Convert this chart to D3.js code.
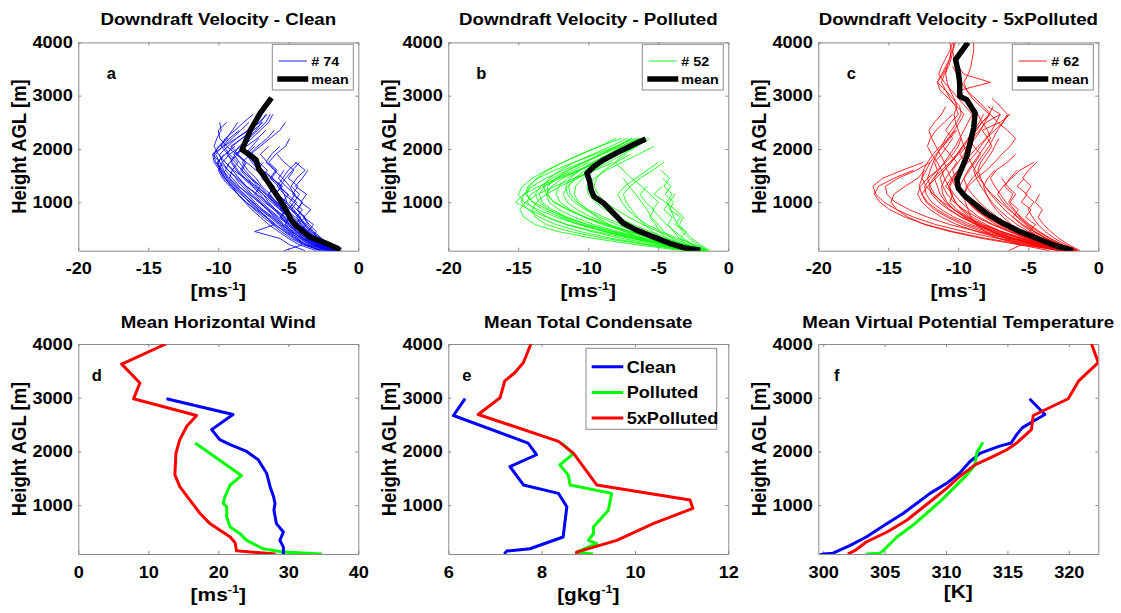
<!DOCTYPE html>
<html>
<head>
<meta charset="utf-8">
<script src="https://cdn.jsdelivr.net/npm/d3@7"></script>
<style>
  body { margin: 0; background: #fff; }
  svg text { font-family: "Liberation Sans", Arial, Helvetica, sans-serif; font-weight: bold; fill: #000; }
</style>
</head>
<body>
<svg id="fig" width="1121" height="613"></svg>
<script>
// ---------------- data ----------------
// model height levels (m AGL) shared by the individual downdraft profiles
const heightLevels = [90, 200, 320, 450, 580, 720, 860, 1000, 1150, 1300, 1450, 1600, 1750, 1900,
  2050, 2200, 2350, 2500, 2650, 2800, 2950, 3100, 3250, 3400, 3550, 3700, 3850, 4000];

// individual downdraft velocity profiles (m/s), one value per level from the ground up
const cleanProfiles = [
  [-1.5,-2.4,-3.1,-3.8,-4.3,-4.9,-5.4,-6.0,-6.6,-7.3,-8.1,-8.9,-9.5,-10.0,-10.3,-10.1,-9.8,-9.9],
  [-1.8,-2.9,-3.6,-4.2,-4.6,-5.2,-5.9,-6.5,-7.2,-8.0,-8.6,-9.3,-9.9,-10.4,-9.6,-8.7,-7.9,-7.0,-6.6],
  [-1.3,-2.1,-2.8,-3.4,-3.9,-4.2,-4.6,-5.1,-5.3,-5.6,-6.1,-6.8,-7.5,-7.8,-7.2,-6.5,-6.0],
  [-2.2,-3.0,-3.9,-4.6,-5.3,-5.8,-6.4,-7.1,-7.8,-8.6,-9.2,-9.7,-10.1,-9.5,-8.8],
  [-1.6,-2.6,-3.2,-3.6,-4.1,-4.4,-4.0,-4.6,-4.2,-4.8,-4.4,-3.8,-4.5],
  [-2.0,-3.4,-4.2,-5.0,-5.6,-6.1,-6.8,-7.4,-7.9,-8.5,-9.0,-9.5,-9.2,-8.6,-9.1,-8.3,-7.5,-6.8],
  [-1.4,-2.2,-2.9,-3.3,-3.8,-4.5,-5.2,-5.6,-6.0,-5.4,-6.2,-6.9,-7.4,-8.1,-7.6,-7.1],
  [-2.5,-3.8,-4.6,-5.3,-5.9,-6.5,-7.2,-7.8,-8.3,-8.9,-9.4,-9.6,-9.9,-10.2,-9.7,-9.2,-8.5],
  [-1.9,-2.8,-3.3,-3.0,-3.5,-3.9,-3.4,-4.1,-3.7,-4.5,-4.0,-3.6],
  [-1.7,-2.7,-3.5,-4.4,-5.1,-5.5,-5.1,-5.8,-6.4,-6.0,-6.7,-7.3,-8.0,-8.6,-8.2,-7.6,-7.0,-6.4,-6.1],
  [-2.3,-3.3,-4.0,-4.8,-5.5,-6.2,-6.9,-7.6,-8.1,-8.8,-9.3,-9.8,-10.2,-10.3,-10.0,-9.4,-9.0,-8.6],
  [-1.5,-2.5,-3.0,-3.7,-4.0,-4.7,-5.0,-4.6,-5.3,-5.8,-5.4,-6.0,-6.6,-6.2,-5.6],
  [-3.8,-4.9,-5.6,-7.4,-6.0,-6.6,-7.1,-7.7,-8.4,-9.0,-9.6,-9.9,-10.0,-9.6],
  [-1.2,-2.0,-2.6,-3.2,-3.6,-3.9,-4.3,-4.0,-4.6,-4.9,-5.4,-5.0,-4.4],
  [-2.1,-3.1,-3.8,-4.3,-4.9,-5.5,-6.0,-6.6,-7.0,-7.6,-8.2,-8.7,-9.1,-8.8,-8.0,-7.2,-6.6],
  [-1.6,-2.3,-3.0,-3.5,-4.2,-4.8,-5.3,-5.9,-6.3,-6.9,-7.3,-7.9,-8.3,-7.7,-7.0,-6.3,-5.6,-5.2],
  [-2.8,-3.6,-4.4,-5.1,-5.7,-6.3,-7.0,-7.5,-8.2,-8.7,-9.2,-9.0,-9.5],
  [-1.9,-2.9,-3.7,-4.0,-4.5,-4.1,-4.8,-5.4,-5.0,-5.7,-6.3,-5.9,-6.5,-7.0,-6.4],
  [-5.3,-4.0,-4.3,-4.9,-5.4,-6.0,-6.5,-7.1,-7.7,-8.3,-8.8],
  [-1.4,-2.4,-3.2,-3.9,-4.6,-5.0,-5.6,-6.2,-6.8,-7.5,-8.1,-8.6,-9.0,-9.3,-9.8,-9.5,-8.8,-8.2,-7.5],
  [-2.4,-3.5,-4.1,-4.7,-5.2,-5.0,-5.6,-5.3,-5.9,-5.5,-6.2,-5.8,-6.4,-5.9,-5.2,-4.9],
  [-1.7,-2.6,-3.4,-3.9,-4.3,-3.8,-4.4,-4.9,-4.5,-5.2,-5.7,-5.3],
  [-2.0,-3.2,-4.0,-4.8,-5.4,-5.9,-6.5,-7.0,-7.6,-8.1,-8.7,-9.3,-9.7,-9.2,-9.6,-9.0,-8.4,-7.8],
  [-1.3,-2.1,-2.7,-3.3,-3.8,-4.2,-4.7,-5.2,-5.7,-6.2,-6.6,-7.1,-7.6,-8.0,-7.4],
  [-2.6,-3.7,-4.5,-5.2,-6.0,-6.6,-7.3,-8.0,-8.6,-9.1,-9.5,-9.8,-10.1],
  [-1.8,-2.7,-3.1,-3.6,-3.2,-3.9,-4.4,-4.0,-4.7,-4.3,-5.0,-4.6,-5.3,-5.8],
  [-2.2,-3.0,-3.7,-4.5,-5.0,-5.7,-6.3,-6.9,-7.4,-7.0,-7.7,-8.3,-8.0,-8.7,-9.4,-9.9,-10.0,-9.4],
  [-1.5,-2.5,-3.3,-4.0,-4.4,-4.9,-5.5,-5.1,-5.8,-6.3,-6.9,-6.5,-7.1,-7.6],
  [-3.0,-4.2,-5.0,-5.7,-6.4,-7.0,-7.6,-8.1,-8.6,-9.0,-9.5,-9.9,-10.3,-10.4,-9.9,-9.3],
  [-1.6,-2.6,-3.4,-4.1,-4.8,-5.4,-6.0,-6.7,-7.3,-8.0,-8.5,-9.0,-8.6,-9.2,-8.4,-7.8,-7.2,-6.6,-6.3],
  [-2.0,-2.9,-3.5,-4.1,-3.7,-4.3,-4.8,-4.4,-5.1,-5.6,-5.2,-4.7,-4.2],
  [-1.4,-2.2,-3.0,-3.6,-4.3,-4.9,-5.5,-6.1,-6.6,-7.2,-7.7,-8.3,-8.8,-9.4,-9.0,-8.3,-7.6],
  [-2.7,-3.9,-4.8,-5.5,-6.1,-6.8,-7.4,-8.0,-8.6,-9.2,-9.7,-10.0,-9.7,-9.9,-9.3,-8.7,-7.8,-7.1,-6.5],
  [-1.9,-2.8,-3.6,-4.2,-4.7,-5.3,-5.9,-6.4,-6.8,-7.4,-7.9,-8.4,-8.1,-8.7,-8.2],
  [-2.3,-3.2,-3.9,-4.4,-4.9,-5.6,-5.2,-5.9,-6.4,-6.0,-6.6,-7.2,-6.8],
  [-1.7,-2.5,-3.2,-3.7,-4.3,-4.8,-5.4,-6.0,-6.5,-7.0,-7.6,-8.1,-8.5,-8.9,-8.5,-7.9,-7.3,-6.9]
];
const pollutedProfiles = [
  [-2.0,-4.5,-7.0,-9.5,-11.5,-13.0,-14.2,-15.2,-14.6,-13.5,-12.2,-10.8,-9.4,-8.0,-6.8,-5.8],
  [-1.8,-3.8,-6.0,-8.2,-10.0,-11.6,-12.9,-13.9,-14.5,-14.3,-13.6,-12.4,-11.0,-9.5,-8.0,-6.6],
  [-2.5,-5.0,-7.6,-9.8,-11.6,-12.9,-13.8,-14.4,-14.1,-13.2,-12.0,-10.6,-9.2,-7.8,-6.5],
  [-1.6,-3.2,-5.1,-7.0,-8.7,-10.2,-11.4,-12.4,-13.0,-13.2,-12.8,-12.0,-11.0,-9.7,-8.4,-7.2],
  [-2.2,-4.2,-6.5,-8.6,-10.4,-11.8,-12.8,-13.5,-13.8,-13.4,-12.6,-11.5,-10.2,-9.0,-7.7,-6.3],
  [-1.9,-3.6,-5.5,-7.4,-9.0,-10.3,-11.3,-12.0,-12.3,-12.1,-11.5,-10.6,-9.6,-8.5,-7.5],
  [-2.7,-5.5,-8.3,-10.6,-12.3,-13.5,-14.3,-14.8,-14.6,-14.0,-13.0,-11.8,-10.4,-9.0,-7.9,-6.9],
  [-1.7,-3.4,-5.2,-7.0,-8.5,-9.8,-10.8,-11.5,-11.8,-11.5,-10.8,-9.9,-8.9,-7.9],
  [-2.1,-4.1,-6.3,-8.3,-10.1,-11.5,-12.6,-13.3,-13.5,-13.1,-12.3,-11.1,-9.9],
  [-2.4,-4.6,-6.8,-8.9,-10.6,-12.0,-13.2,-14.0,-14.4,-14.2,-13.7,-12.9,-11.8,-10.6,-9.2,-7.6],
  [-1.5,-3.0,-4.6,-6.2,-7.6,-8.9,-10.0,-10.8,-11.3,-11.4,-11.0,-10.2,-9.2,-8.1,-7.0,-5.9],
  [-2.0,-3.9,-5.9,-7.9,-9.6,-11.0,-12.1,-12.8,-13.0,-12.6,-11.8,-10.7,-9.4,-8.1,-6.9],
  [-2.9,-5.8,-8.8,-11.3,-13.0,-13.8,-14.0,-13.7,-13.0,-12.0,-10.8,-9.5,-8.2],
  [-1.6,-3.3,-5.0,-6.6,-8.0,-9.2,-10.2,-11.0,-11.5,-11.6,-11.3,-10.6,-9.7,-8.6,-7.6,-6.4],
  [-2.3,-4.4,-6.7,-8.8,-10.7,-12.3,-13.6,-14.6,-15.0,-14.7,-14.0,-13.0,-11.8,-10.5,-9.2,-8.0],
  [-1.8,-3.5,-5.3,-7.1,-8.8,-10.3,-11.5,-12.5,-12.9,-12.9,-12.3,-11.4,-10.3,-9.2,-8.0,-6.9],
  [-1.4,-2.2,-2.8,-3.3,-3.6,-3.9,-4.1,-4.4,-4.0,-4.6,-4.2,-4.8],
  [-1.8,-2.6,-3.4,-3.0,-3.8,-3.4,-4.2,-3.9,-4.5,-4.1,-4.7],
  [-2.2,-3.3,-4.0,-4.6,-5.0,-5.5,-5.8,-6.2,-6.6,-7.1,-7.5],
  [-1.5,-2.4,-3.6,-4.8,-5.8,-6.6,-7.2,-7.6,-7.9,-7.4,-6.6,-5.8,-5.0],
  [-2.0,-3.0,-3.5,-3.9,-4.3,-4.0,-4.6,-4.2,-3.8],
  [-1.3,-2.0,-2.6,-3.1,-3.5,-3.2,-3.8,-4.5,-5.3,-4.7],
  [-2.6,-3.8,-4.7,-5.4,-6.0,-6.5,-6.9,-7.3,-7.5,-7.0,-6.3,-5.4,-4.6],
  [-1.7,-2.8,-3.9,-5.0,-6.1,-7.1,-8.0,-8.8,-9.3,-9.6,-9.4,-8.9,-8.0,-7.0],
  [-1.9,-3.1,-4.3,-5.6,-6.8,-7.9,-8.8,-9.5,-10.0,-10.1,-9.6,-8.7,-7.6,-6.4,-5.3],
  [-2.4,-3.7,-4.4,-4.9,-5.2,-5.6,-5.3,-5.9,-6.3,-5.8],
  [-1.6,-2.5,-3.2,-3.8,-4.4,-4.9,-5.4,-5.0,-5.6,-6.2,-6.9,-7.5,-8.1,-7.3],
  [-3.0,-4.8,-6.2,-7.4,-8.5,-9.4,-10.1,-10.7,-11.0,-10.9,-10.4,-9.6,-8.6,-7.5,-6.5,-5.6],
  [-3.2,-6.5,-9.6,-12.2,-13.8,-14.6,-14.9,-14.5,-13.6,-12.4,-11.0,-9.6]
];
const polluted5xProfiles = [
  [-2.0,-4.5,-7.2,-9.6,-11.6,-13.2,-14.4,-15.3,-15.9,-16.1,-15.4,-14.0,-12.5],
  [-2.4,-5.2,-8.0,-10.4,-12.3,-13.8,-14.9,-15.6,-16.0,-15.7,-14.6,-13.2],
  [-1.8,-4.0,-6.4,-8.6,-10.6,-12.2,-13.5,-14.5,-15.1,-15.2,-14.3,-13.0,-12.0],
  [-2.6,-5.6,-8.3,-10.6,-12.4,-13.6,-14.4,-14.8,-14.6,-13.8,-12.9,-12.4],
  [-1.9,-3.8,-5.6,-7.2,-8.6,-9.8,-10.7,-11.4,-11.9,-12.1,-11.8,-11.2,-10.6,-10.1,-9.7,-9.3,-8.9,-8.5,-8.2],
  [-2.2,-4.1,-6.0,-7.7,-9.1,-10.3,-11.2,-11.9,-12.3,-12.4,-12.0,-11.5,-11.7,-11.2,-10.8,-10.4,-10.9,-10.5,-10.0,-10.2,-10.6,-10.9,-11.2,-11.0,-10.7,-10.5,-10.4,-10.3],
  [-1.6,-3.2,-4.8,-6.3,-7.6,-8.7,-9.6,-10.3,-10.8,-11.1,-11.3,-11.0,-10.5,-10.0,-9.6,-9.2,-8.7,-8.3,-7.8,-8.4,-9.0,-9.4,-9.6,-9.3,-9.1,-9.0,-8.9,-8.9],
  [-2.8,-5.0,-7.0,-8.7,-10.1,-11.2,-12.0,-12.6,-12.9,-12.7,-12.2,-11.5,-10.9,-10.4,-10.0,-9.8],
  [-1.7,-3.5,-5.3,-6.9,-8.2,-9.3,-10.1,-10.6,-10.4,-10.9,-10.5,-10.0,-9.5,-9.9,-9.4,-9.0,-8.5,-8.0,-7.0,-7.9],
  [-2.1,-3.9,-5.5,-6.9,-8.0,-9.0,-9.7,-10.2,-10.5,-10.6,-10.3,-9.8,-9.3,-8.8,-8.4,-8.0,-7.6,-7.3,-7.0],
  [-2.5,-4.4,-6.1,-7.5,-8.7,-9.6,-10.3,-10.8,-11.1,-11.2,-10.9,-10.5,-10.1,-10.6,-11.1,-10.7,-10.3,-9.9,-9.6,-10.1,-10.7,-11.3,-11.5,-11.1,-10.8],
  [-1.9,-3.4,-4.8,-6.0,-7.0,-7.9,-8.7,-9.3,-9.8,-10.2,-10.5,-10.8,-11.0,-11.3,-11.6,-11.9,-12.1,-11.7,-11.2,-10.9],
  [-2.3,-4.3,-6.3,-8.0,-9.4,-10.6,-11.5,-12.2,-12.6,-12.8,-12.6,-12.3,-12.0,-11.6,-11.1,-10.6,-10.1],
  [-1.5,-2.9,-4.3,-5.6,-6.7,-7.7,-8.5,-9.1,-9.6,-10.0,-10.2,-10.4,-10.0,-9.6,-9.2,-8.8,-8.4,-8.1,-7.8,-7.5],
  [-2.0,-3.6,-5.1,-6.4,-7.5,-8.5,-9.2,-9.8,-10.3,-10.7,-11.0,-11.2,-11.5,-11.9,-12.2,-12.0,-11.6,-11.0,-10.4],
  [-2.7,-4.7,-6.6,-8.3,-9.7,-10.8,-11.7,-12.3,-12.6,-12.2,-11.6,-11.0,-10.5,-10.1,-9.7],
  [-1.8,-3.3,-4.7,-5.9,-6.9,-7.8,-8.6,-9.2,-9.6,-9.9,-9.6,-9.2,-8.8,-8.4,-8.9,-9.3,-8.8,-8.3,-7.7,-8.2,-8.8,-9.4,-9.8,-10.1,-10.4],
  [-2.4,-4.2,-5.9,-7.3,-8.5,-9.5,-10.3,-10.9,-11.3,-11.5,-11.7,-11.4,-11.0,-10.6,-10.2,-9.9,-9.6,-9.3,-9.0,-9.5,-10.0,-10.5,-11.0,-11.4,-11.2,-10.9,-10.6,-10.4],
  [-1.4,-2.3,-3.1,-3.8,-4.3,-4.7,-5.0,-4.6,-5.2,-4.8,-5.4,-5.0,-4.4],
  [-1.7,-2.8,-3.7,-4.5,-5.1,-5.6,-6.0,-6.4,-6.1,-6.7,-6.3,-5.8],
  [-2.0,-3.2,-4.2,-4.9,-4.5,-5.2,-4.8,-5.5,-5.1,-5.8,-5.3],
  [-1.5,-2.5,-3.4,-4.2,-4.9,-5.5,-6.1,-6.6,-7.0,-7.4,-7.7,-7.3,-6.5,-5.9],
  [-2.3,-3.6,-4.6,-5.5,-6.2,-6.8,-7.3,-7.7,-8.0,-8.2,-7.9,-7.4],
  [-1.9,-3.0,-4.0,-4.8,-5.5,-6.1,-5.7,-6.3,-5.9,-6.5,-6.9],
  [-1.3,-2.1,-2.8,-3.4,-3.9,-4.3,-4.0,-4.5,-4.2],
  [-2.6,-4.0,-5.2,-6.3,-7.3,-8.1,-8.8,-9.3,-9.6,-9.3,-8.7,-8.0,-7.4,-6.9,-6.3,-5.9,-6.5,-7.2,-7.7],
  [-1.6,-2.6,-3.5,-4.3,-5.0,-5.7,-6.4,-7.0,-7.6,-8.1,-8.4,-8.6,-8.4,-8.0,-7.6,-7.9,-8.3,-7.0,-6.3],
  [-2.1,-3.4,-4.5,-5.5,-6.4,-7.2,-7.9,-8.5,-9.0,-9.4,-9.6,-9.3,-8.9,-8.5,-8.1,-7.7,-7.9,-8.3,-8.6,-9.0,-9.5,-9.9,-7.7,-9.6,-10.0,-10.3,-10.4,-10.2],
  [-3.5,-5.6,-7.1,-8.1,-8.7,-9.1,-9.3,-9.5,-9.6,-9.4,-9.0,-8.5,-8.1,-7.7,-7.4,-7.1],
  [-2.9,-4.6,-6.2,-7.6,-8.8,-9.8,-10.6,-11.2,-11.7,-12.0,-12.2,-12.0,-11.8,-11.5,-11.2,-10.9,-10.5,-10.1,-9.8,-9.9,-10.4,-10.9,-11.5,-11.2,-10.9,-10.6,-10.5,-10.6],
  [-6.4,-5.5,-6.6,-7.6,-8.5,-9.2,-9.8,-10.2,-10.5,-10.7,-10.4,-10.0,-9.6],
  [-1.8,-2.9,-3.8,-4.6,-5.2,-5.8,-6.3,-6.8,-7.2,-6.8,-6.2,-5.6,-4.6],
  [-2.2,-3.7,-5.0,-6.1,-7.1,-8.0,-8.7,-9.3,-9.7,-10.0,-10.1,-9.8,-9.5,-9.1,-8.6,-8.0,-7.4,-6.8,-6.4],
  [-1.6,-2.7,-3.7,-4.6,-5.4,-6.1,-6.7,-7.2,-7.7,-8.1,-8.5,-8.8,-9.1,-9.4,-9.6,-9.8,-10.0,-10.2,-10.3,-10.1,-10.3,-10.6,-10.8,-10.9,-10.8,-10.6,-10.5],
  [-2.5,-4.1,-5.6,-7.0,-8.3,-9.4,-10.3,-11.1,-11.8,-12.3,-12.6,-12.5,-12.2,-11.8,-11.3,-10.7,-10.2],
  [-1.9,-3.1,-4.1,-5.0,-5.8,-6.5,-7.1,-7.6,-8.0,-8.4,-8.7,-8.9,-8.6,-8.2,-7.8,-7.5,-7.2,-6.8,-6.5,-7.0,-7.6]
];

// mean downdraft profiles: [velocity m/s, height m]
const cleanMean = [[-1.3,95],[-1.5,135],[-2.3,230],[-3.5,355],[-4.4,545],[-4.8,670],[-5.3,920],[-6.0,1200],
  [-6.7,1480],[-7.1,1620],[-7.3,1795],[-7.7,1880],[-8.3,1985],[-8.2,2050],[-7.7,2360],[-7.0,2675],[-6.2,2960]];
const pollutedMean = [[-2.0,100],[-3.0,135],[-4.2,229],[-5.4,354],[-6.6,480],[-7.5,605],[-8.2,793],[-8.9,982],
  [-9.6,1107],[-9.8,1232],[-9.9,1389],[-10.1,1545],[-9.6,1671],[-8.9,1796],[-8.0,1922],[-6.8,2078],[-5.9,2185]];
const polluted5xMean = [[-1.8,90],[-3.2,197],[-4.4,323],[-5.6,448],[-6.8,605],[-8.0,793],[-8.9,982],[-9.5,1107],
  [-10.0,1263],[-10.1,1420],[-9.8,1608],[-9.4,1859],[-9.1,2172],[-8.9,2392],[-8.8,2674],[-9.4,2925],[-9.9,2987],
  [-9.9,3238],[-10.0,3450],[-10.2,3677],[-9.3,4000]];
const legendCounts = ["# 74", "# 52", "# 62"];

// mean horizontal wind: [m/s, height m]
const windClean = [[29.3,90],[29.3,219],[28.8,344],[29.3,500],[28.3,656],[27.95,906],[28.1,1031],[27.9,1156],
  [27.4,1344],[26.9,1594],[25.7,1844],[24.05,2000],[21.7,2125],[20.2,2219],[19.05,2406],[22.1,2688],[12.6,2981]];
const windPolluted = [[34.8,90],[29.3,125],[26.4,188],[24.05,344],[23.1,469],[21.7,594],[21.2,781],[21.2,969],
  [20.7,1031],[20.95,1156],[21.7,1375],[23.3,1550],[16.7,2156]];
const windPolluted5x = [[28.2,90],[22.6,150],[22.4,300],[21.7,406],[18.8,656],[17.4,844],[15.95,1094],[14.5,1344],
  [13.8,1563],[13.95,1969],[14.5,2219],[15.5,2469],[16.9,2669],[7.9,2981],[8.8,3275],[6.2,3625],[12.5,4000]];

// mean total condensate: [g/kg, height m]
const condClean = [[7.2,90],[7.25,144],[7.75,188],[8.46,406],[8.54,969],[8.36,1219],[7.61,1375],[7.32,1719],
  [7.89,1938],[7.71,2156],[6.11,2669],[6.36,2981]];
const condPolluted = [[9.1,90],[8.75,125],[9.18,281],[9.0,344],[9.11,469],[9.11,594],[9.43,906],[9.5,1219],
  [8.61,1375],[8.57,1563],[8.39,1750],[8.68,1956],[8.43,2156]];
const condPolluted5x = [[8.75,90],[8.75,125],[9.61,344],[10.39,656],[11.24,938],[11.18,1094],[9.18,1375],
  [8.68,1969],[8.36,2188],[6.64,2688],[7.11,3000],[7.21,3313],[7.43,3469],[7.61,3656],[7.77,4000]];

// mean virtual potential temperature: [K, height m]
const thetaClean = [[299.6,60],[300.0,90],[300.8,106],[302.2,250],[303.5,406],[305.2,656],[306.5,844],[307.6,1031],
  [308.7,1219],[310.05,1406],[311.1,1594],[311.95,1813],[312.8,1969],[314.3,2094],[315.3,2156],[315.75,2313],
  [316.2,2438],[317.1,2563],[318.05,2688],[316.8,2981]];
const thetaPolluted = [[303.5,90],[304.6,106],[304.9,156],[306.0,406],[307.3,625],[308.4,844],[309.5,1063],
  [310.6,1313],[311.7,1563],[312.35,1750],[312.5,1969],[313.0,2169]];
const thetaPolluted5x = [[302.0,90],[302.6,156],[303.5,313],[305.2,500],[306.8,719],[308.7,1063],[310.05,1313],
  [311.1,1531],[312.35,1750],[313.85,1906],[314.95,2031],[315.75,2156],[316.95,2406],[317.1,2669],[319.95,2981],
  [320.8,3313],[322.4,3656],[321.85,4000]];
// the temperature axis spans exactly the range of its data
const thetaRange = [299.6, 322.4];

const caseNames = ["Clean", "Polluted", "5xPolluted"];
const caseColors = ["#0000ff", "#00ff00", "#ff0000"];
const heightTicks = [1000, 2000, 3000, 4000];

// ---------------- drawing ----------------
const svg = d3.select("#fig");
const colLeft = [78.3, 448.3, 818.3];
const plotW = 280;
const rows = [[42.4, 250.7], [344, 554]];
const SX = 1.1;            // horizontal stretch of the lettering
const gray = "#8a8a8a";

function addText(parent, str, x, y, size, anchor = "middle") {
  return parent.append("text")
    .attr("transform", `translate(${x},${y}) scale(${SX},1)`)
    .attr("text-anchor", anchor)
    .style("font-size", size + "px")
    .text(str);
}

function makePanel(id, col, row, xDomain, xTicks, title, xUnit, xSup, letter) {
  const x0 = colLeft[col], x1 = x0 + plotW;
  const yTop = rows[row][0], yBot = rows[row][1];
  const x = d3.scaleLinear().domain(xDomain).range([x0, x1]);
  const y = d3.scaleLinear().domain([90, 4000]).range([yBot, yTop]);
  const g = svg.append("g").attr("id", id);

  g.append("clipPath").attr("id", "clip-" + id)
    .append("rect").attr("x", x0).attr("y", yTop).attr("width", plotW).attr("height", yBot - yTop);

  const styleAxis = sel => {
    sel.select(".domain").attr("stroke", gray).attr("stroke-width", 1);
    sel.selectAll(".tick line").attr("stroke", gray);
    sel.selectAll(".tick text").attr("fill", "#000")
      .style("font-size", "16.5px")
      .style("font-family", '"Liberation Sans", Arial, Helvetica, sans-serif')
      .style("font-weight", "bold");
  };
  const fmt = d => String(d);

  const bottom = g.append("g").attr("transform", `translate(0,${yBot})`)
    .call(d3.axisBottom(x).tickValues(xTicks).tickFormat(fmt).tickSizeInner(-3).tickSizeOuter(0).tickPadding(12));
  styleAxis(bottom);
  bottom.selectAll(".tick text").attr("transform", `scale(${SX},1)`);

  const top = g.append("g").attr("transform", `translate(0,${yTop})`)
    .call(d3.axisTop(x).tickValues(xTicks).tickFormat(() => "").tickSizeInner(-3).tickSizeOuter(0));
  styleAxis(top);

  const left = g.append("g").attr("transform", `translate(${x0},0)`)
    .call(d3.axisLeft(y).tickValues(heightTicks).tickFormat(fmt).tickSizeInner(-3).tickSizeOuter(0).tickPadding(5));
  styleAxis(left);
  left.selectAll(".tick text").attr("transform", `scale(${SX},1)`);

  const right = g.append("g").attr("transform", `translate(${x1},0)`)
    .call(d3.axisRight(y).tickValues(heightTicks).tickFormat(() => "").tickSizeInner(-3).tickSizeOuter(0));
  styleAxis(right);

  // title
  addText(g, title, (x0 + x1) / 2, row === 0 ? 24.5 : 327.5, 17);

  // x label, with a superscript exponent where the unit has one
  const xl = g.append("text")
    .attr("transform", `translate(${(x0 + x1) / 2},${yBot + (xSup ? 46.5 : 43.5)}) scale(${SX},1)`)
    .attr("text-anchor", "middle").style("font-size", "19px");
  xl.append("tspan").text("[" + xUnit);
  if (xSup) {
    xl.append("tspan").attr("dy", -7.5).style("font-size", "11.5px").text(xSup);
    xl.append("tspan").attr("dy", 7.5).text("]");
  } else {
    xl.append("tspan").text("]");
  }

  // y label
  const cy = (yTop + yBot) / 2;
  g.append("text")
    .attr("transform", `translate(${x0 - 52},${cy}) rotate(-90) scale(1,${SX})`)
    .attr("text-anchor", "middle").style("font-size", "18.5px")
    .text("Height AGL [m]");

  // panel letter
  g.append("text").attr("x", x0 + (row === 0 ? 33 : 18.5)).attr("y", row === 0 ? 79 : 381)
    .attr("text-anchor", "middle").style("font-size", "16.5px").text(letter);

  const plot = g.append("g").attr("clip-path", `url(#clip-${id})`);
  const line = d3.line().x(d => x(d[0])).y(d => y(d[1]));
  return { g, plot, x, y, line, x0, x1, yTop, yBot };
}

// top row: individual downdraft profiles with their mean
const velTicks = [-20, -15, -10, -5, 0];
const topSets = [
  { profiles: cleanProfiles, mean: cleanMean },
  { profiles: pollutedProfiles, mean: pollutedMean },
  { profiles: polluted5xProfiles, mean: polluted5xMean }
];
topSets.forEach((set, i) => {
  const p = makePanel("vel" + i, i, 0, [-20, 0], velTicks,
    "Downdraft Velocity - " + caseNames[i], "ms", "-1", "abc"[i]);
  p.plot.selectAll("path.member").data(set.profiles).join("path")
    .attr("class", "member")
    .attr("d", prof => p.line(prof.map((w, k) => [w, heightLevels[k]])))
    .attr("fill", "none").attr("stroke", caseColors[i]).attr("stroke-width", 0.85);
  p.plot.append("path").attr("d", p.line(set.mean))
    .attr("fill", "none").attr("stroke", "#000").attr("stroke-width", 5.5)
    .attr("stroke-linejoin", "round").attr("stroke-linecap", "butt");

  // legend
  const lg = p.g.append("g");
  const lx = p.x0 + 194, ly = 44.3;
  lg.append("rect").attr("x", lx).attr("y", ly).attr("width", 81).attr("height", 45.7)
    .attr("fill", "#fff").attr("stroke", gray).attr("stroke-width", 1);
  lg.append("line").attr("x1", lx + 6.5).attr("x2", lx + 34.5).attr("y1", ly + 16.7).attr("y2", ly + 16.7)
    .attr("stroke", caseColors[i]).attr("stroke-width", 0.9);
  lg.append("line").attr("x1", lx + 5).attr("x2", lx + 36).attr("y1", ly + 34.7).attr("y2", ly + 34.7)
    .attr("stroke", "#000").attr("stroke-width", 5.5);
  addText(lg, legendCounts[i], lx + 39, ly + 21.5, 13, "start");
  addText(lg, "mean", lx + 39, ly + 39.5, 13, "start");
});

// bottom row: mean profiles of the three cases
const bottomSets = [
  { id: "wind", domain: [0, 40], ticks: [0, 10, 20, 30, 40], title: "Mean Horizontal Wind", unit: "ms", sup: "-1",
    series: [windClean, windPolluted, windPolluted5x] },
  { id: "cond", domain: [6, 12], ticks: [6, 8, 10, 12], title: "Mean Total Condensate", unit: "gkg", sup: "-1",
    series: [condClean, condPolluted, condPolluted5x] },
  { id: "theta", domain: thetaRange, ticks: [300, 305, 310, 315, 320], title: "Mean Virtual Potential Temperature",
    unit: "K", sup: null, series: [thetaClean, thetaPolluted, thetaPolluted5x] }
];
bottomSets.forEach((set, i) => {
  const p = makePanel(set.id, i, 1, set.domain, set.ticks, set.title, set.unit, set.sup, "def"[i]);
  const order = set.id === "wind" ? [2, 1, 0] : [0, 1, 2];
  order.forEach(k => {
    p.plot.append("path").attr("d", p.line(set.series[k]))
      .attr("fill", "none").attr("stroke", caseColors[k]).attr("stroke-width", 3)
      .attr("stroke-linejoin", "round");
  });
  if (set.id === "cond") {
    const lg = p.g.append("g");
    const lx = 586, ly = 348.3;
    lg.append("rect").attr("x", lx).attr("y", ly).attr("width", 130.7).attr("height", 81)
      .attr("fill", "#fff").attr("stroke", gray).attr("stroke-width", 1);
    caseNames.forEach((name, k) => {
      const yy = ly + 18.4 + k * 25.7;
      lg.append("line").attr("x1", lx + 5.7).attr("x2", lx + 37.3).attr("y1", yy).attr("y2", yy)
        .attr("stroke", caseColors[k]).attr("stroke-width", 3);
      addText(lg, name, lx + 40.7, yy + 6, 16.5, "start");
    });
  }
});
</script>
</body>
</html>
